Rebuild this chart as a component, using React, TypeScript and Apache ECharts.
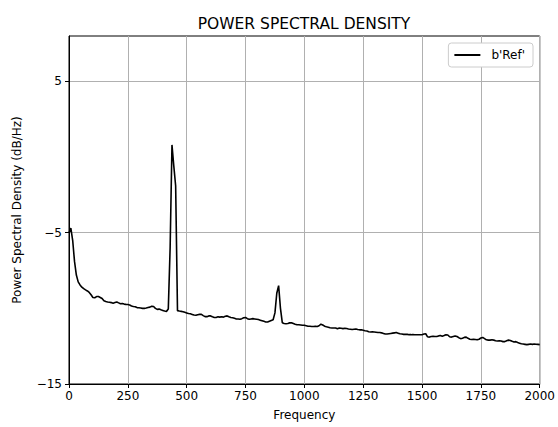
import React, { useEffect, useRef } from "react";
import * as echarts from "echarts";

// Frequency bin spacing of the Welch estimate (Hz)
const binWidth = 7.8125;

// PSD values in dB/Hz, one per frequency bin from 0 Hz to 2000 Hz
const psdRef: number[] = [
  -5.0, -4.7, -5.5, -6.9, -7.8, -8.25, -8.45, -8.6,
  -8.7, -8.78, -8.85, -8.95, -9.1, -9.28, -9.3, -9.22,
  -9.22, -9.28, -9.35, -9.5, -9.55, -9.58, -9.6, -9.62,
  -9.66, -9.62, -9.58, -9.64, -9.7, -9.68, -9.72, -9.74,
  -9.75, -9.78, -9.84, -9.88, -9.9, -9.95, -9.96, -9.98,
  -10.0, -10.0, -9.98, -9.95, -9.92, -9.86, -9.88, -10.0,
  -10.07, -10.05, -10.1, -10.14, -10.18, -10.2, -10.05, -6.0,
  0.8, -0.6, -1.9, -10.15, -10.18, -10.2, -10.22, -10.26,
  -10.3, -10.34, -10.36, -10.4, -10.44, -10.46, -10.42, -10.4,
  -10.4, -10.48, -10.55, -10.55, -10.5, -10.5, -10.56, -10.6,
  -10.6, -10.56, -10.58, -10.55, -10.58, -10.52, -10.5, -10.56,
  -10.6, -10.62, -10.66, -10.7, -10.7, -10.72, -10.68, -10.62,
  -10.6, -10.68, -10.72, -10.7, -10.68, -10.7, -10.72, -10.74,
  -10.78, -10.82, -10.86, -10.9, -10.9, -10.85, -10.8, -10.75,
  -10.3, -9.0, -8.5, -10.0, -10.95, -11.0, -11.02, -11.0,
  -10.96, -10.95, -11.0, -11.05, -11.08, -11.08, -11.1, -11.12,
  -11.12, -11.15, -11.18, -11.18, -11.2, -11.2, -11.18, -11.2,
  -11.15, -11.05, -11.1, -11.18, -11.22, -11.25, -11.28, -11.3,
  -11.3, -11.3, -11.35, -11.3, -11.32, -11.34, -11.32, -11.33,
  -11.36, -11.38, -11.4, -11.38, -11.36, -11.4, -11.42, -11.42,
  -11.45, -11.48, -11.5, -11.55, -11.56, -11.55, -11.56, -11.58,
  -11.6, -11.6, -11.62, -11.66, -11.7, -11.7, -11.68, -11.66,
  -11.64, -11.62, -11.6, -11.64, -11.68, -11.7, -11.72, -11.72,
  -11.72, -11.74, -11.74, -11.73, -11.74, -11.75, -11.74, -11.75,
  -11.74, -11.7, -11.68, -11.88, -11.9, -11.86, -11.84, -11.86,
  -11.86, -11.82, -11.8, -11.84, -11.8, -11.74, -11.76, -11.88,
  -11.9, -11.86, -11.82, -11.86, -11.94, -12.0, -11.98, -11.92,
  -11.9, -11.98, -12.04, -12.06, -12.04, -12.06, -12.08, -12.04,
  -11.96, -11.92, -12.0, -12.08, -12.1, -12.1, -12.08, -12.1,
  -12.14, -12.16, -12.14, -12.16, -12.2, -12.2, -12.14, -12.1,
  -12.12, -12.18, -12.22, -12.2, -12.26, -12.3, -12.34, -12.36,
  -12.38, -12.4, -12.38, -12.36, -12.38, -12.36, -12.37, -12.38,
  -12.4,
];

const xTicks = [0, 250, 500, 750, 1000, 1250, 1500, 1750, 2000];
const yTicks = [-15, -5, 5];
const yMax = 8;

const seriesName = "b'Ref'";
const chartTitle = "POWER SPECTRAL DENSITY";
const xLabel = "Frequency";
const yLabel = "Power Spectral Density (dB/Hz)";

const FONT = "DejaVu Sans";
const fmt = (v: number) => (v < 0 ? "\u2212" + Math.abs(v) : String(v));

export default function App() {
  const ref = useRef<HTMLDivElement>(null);

  useEffect(() => {
    if (!ref.current) return;
    const chart = echarts.init(ref.current, undefined, { renderer: "svg" });
    const points = psdRef.map((v, i) => [i * binWidth, v]);

    chart.setOption({
      animation: false,
      backgroundColor: "#ffffff",
      textStyle: { fontFamily: FONT },
      title: {
        text: chartTitle,
        left: 299,
        top: 11,
        textAlign: "center",
        textStyle: { fontFamily: FONT, fontSize: 15.5, fontWeight: "normal", color: "#000" },
      },
      legend: {
        right: 25,
        top: 43,
        data: [seriesName],
        icon: "rect",
        itemWidth: 26,
        itemHeight: 2,
        itemGap: 10,
        padding: [6, 8, 6, 6],
        borderColor: "#cccccc",
        borderWidth: 1,
        borderRadius: 3,
        backgroundColor: "#ffffff",
        textStyle: { fontFamily: FONT, fontSize: 12, color: "#000", padding: [0, 0, 0, 6] },
      },
      grid: {
        left: 69,
        top: 36,
        width: 471,
        height: 348,
        show: true,
        borderColor: "#000",
        borderWidth: 1,
        backgroundColor: "transparent",
      },
      xAxis: {
        type: "value",
        min: xTicks[0],
        max: xTicks[xTicks.length - 1],
        interval: 250,
        name: xLabel,
        nameLocation: "middle",
        nameGap: 25,
        nameTextStyle: { fontFamily: FONT, fontSize: 12, color: "#000" },
        axisLine: { show: true, onZero: false, lineStyle: { color: "#000", width: 1 } },
        axisTick: { show: true, length: 4, lineStyle: { color: "#000" } },
        axisLabel: {
          fontFamily: FONT,
          fontSize: 12,
          color: "#000",
          margin: 6,
          formatter: (v: number) => fmt(v),
        },
        splitLine: { show: true, lineStyle: { color: "#b0b0b0", width: 1 } },
      },
      yAxis: {
        type: "value",
        min: yTicks[0],
        max: yMax,
        interval: 10,
        name: yLabel,
        nameLocation: "middle",
        nameGap: 46,
        nameTextStyle: { fontFamily: FONT, fontSize: 12, color: "#000" },
        axisLine: { show: true, onZero: false, lineStyle: { color: "#000", width: 1 } },
        axisTick: { show: true, length: 4, customValues: yTicks, lineStyle: { color: "#000" } },
        axisLabel: {
          fontFamily: FONT,
          fontSize: 12,
          color: "#000",
          margin: 7,
          customValues: yTicks,
          formatter: (v: number) => (yTicks.includes(v) ? fmt(v) : ""),
        },
        splitLine: { show: true, lineStyle: { color: "#b0b0b0", width: 1 } },
      },
      series: [
        {
          name: seriesName,
          type: "line",
          data: points,
          symbol: "none",
          lineStyle: { color: "#000", width: 1.6 },
          itemStyle: { color: "#000" },
        },
      ],
    });

    return () => chart.dispose();
  }, []);

  return (
    <div
      ref={ref}
      style={{ position: "absolute", left: 0, top: 0, width: 558, height: 427 }}
    />
  );
}
